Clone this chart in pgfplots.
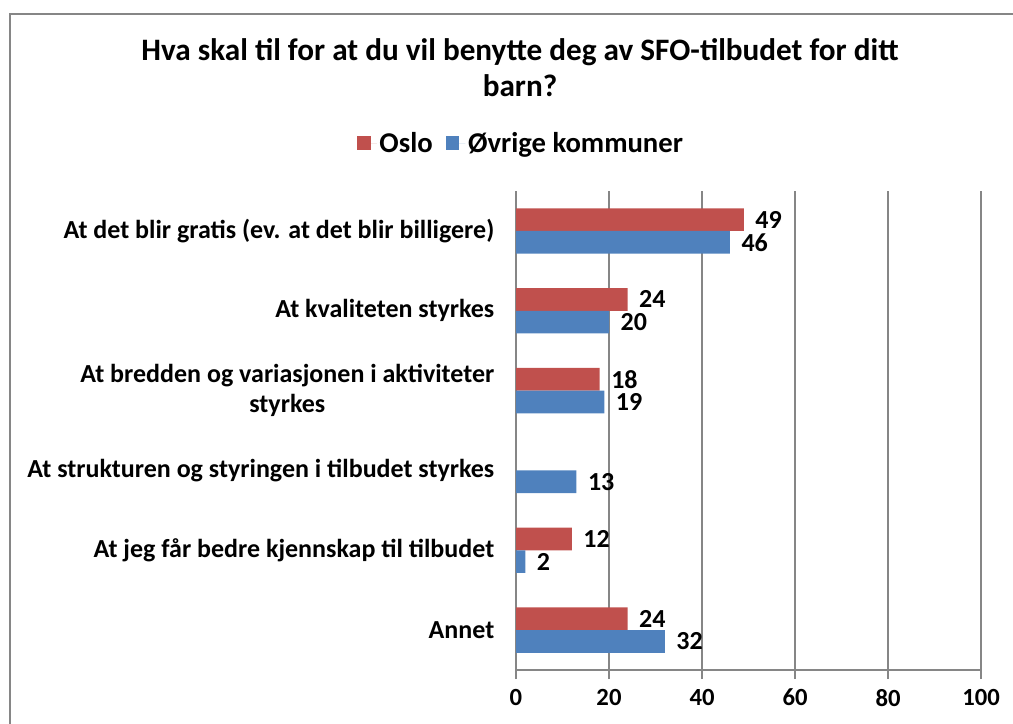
\documentclass[border=0pt]{standalone}
\usepackage{fontspec}
\setmainfont{Carlito}
\usepackage{pgfplots}
\pgfplotsset{compat=1.18}
\definecolor{oslo}{HTML}{C0504D}
\definecolor{ovr}{HTML}{4F81BD}
\definecolor{framec}{HTML}{868686}
\definecolor{gridc}{HTML}{868686}
\begin{document}
\begin{tikzpicture}[x=0.75pt,y=0.75pt]
\useasboundingbox (0,0) rectangle (1013,724);
\clip (0,0) rectangle (1013,724);
\draw[framec, line width=1.3pt] (10,-20) -- (10,710) -- (1040,710);
\node[font=\bfseries\fontsize{23.4}{27}\selectfont, align=center, anchor=center] at (520,656)
  {Hva skal til for at du vil benytte deg av SFO-tilbudet for ditt\\barn?};
\begin{axis}[
  at={(387pt,40.5pt)}, anchor=south west,
  scale only axis, width=348.75pt, height=359.25pt,
  xmin=0, xmax=100, ymin=-0.5, ymax=5.5, y dir=reverse,
  xbar, bar width=17pt,
  axis x line*=bottom, axis y line*=left,
  axis line style={gridc, line width=0.8pt, -},
  xtick={0,20,...,100},
  xmajorgrids, grid style={gridc, line width=0.8pt},
  x tick style={gridc, line width=0.8pt}, xtick pos=bottom,
  tick align=outside, major tick length=6.75pt,
  ytick={0,...,5},
  yticklabels={At det blir gratis (ev. at det blir billigere),At kvaliteten styrkes,At bredden og variasjonen i aktiviteter\\styrkes,At strukturen og styringen i tilbudet styrkes,At jeg får bedre kjennskap til tilbudet,Annet},
  y tick style={draw=none},
  minor ytick={-0.5,0.5,...,5.5},
  minor y tick style={gridc, line width=0.8pt},
  minor tick length=5.25pt,
  yticklabel style={font=\bfseries\fontsize{19.5}{22.5}\selectfont, align=center, xshift=-6pt},
  xticklabel style={font=\bfseries\fontsize{18.5}{20}\selectfont, yshift=-4pt},
  /pgf/number format/assume math mode=true,
  nodes near coords,
  every node near coord/.append style={font=\bfseries\fontsize{19.5}{20}\selectfont, anchor=west, inner sep=0.5pt, xshift=8pt, black},
  legend style={at={(0.012,1.1)}, anchor=center, legend columns=2, draw=none,
    font=\bfseries\fontsize{21.5}{24}\selectfont,
    /tikz/every even column/.append style={column sep=8pt}},
  legend image code/.code={\fill[#1] (0pt,-5pt) rectangle (10pt,5pt); \path (0pt,0pt) -- (14.5pt,0pt);},
  clip=false,
]
\addplot[fill=oslo, draw=none, bar shift=8.5pt] coordinates {(49,0) (24,1) (18,2) (12,4) (24,5)};
\addplot[fill=ovr, draw=none, bar shift=-8.5pt] coordinates {(46,0) (20,1) (19,2) (13,3) (2,4) (32,5)};
\legend{Oslo,Øvrige kommuner}
\end{axis}
\end{tikzpicture}
\end{document}
